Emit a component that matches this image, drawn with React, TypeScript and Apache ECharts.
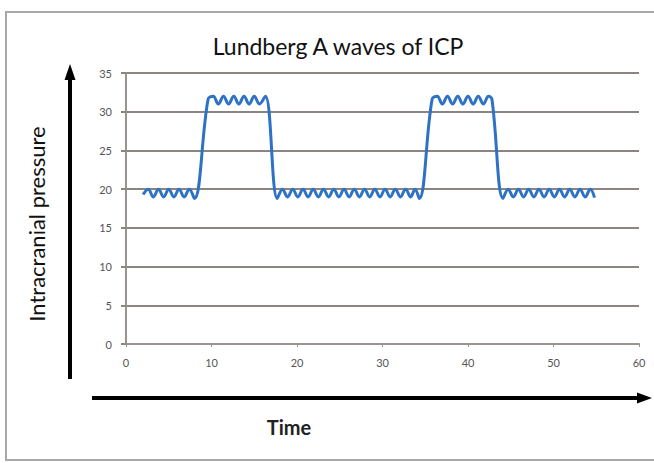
import React, { useEffect, useRef } from "react";
import * as echarts from "echarts";

const titleText = "Lundberg A waves of ICP";
const yAxisName = "Intracranial pressure";
const xAxisName = "Time";

const timeValues = [
  2.0, 2.6, 3.2, 3.8, 4.4, 5.0, 5.6, 6.2, 6.8, 7.4, 8.0,
  9.6, 10.2, 10.8, 11.4, 12.0, 12.6, 13.2, 13.8, 14.4, 15.0, 15.6, 16.3,
  17.7,
  18.3, 18.9, 19.5, 20.1, 20.7, 21.3, 21.9, 22.5, 23.1, 23.7, 24.3, 24.9, 25.5, 26.1,
  26.7, 27.3, 27.9, 28.5, 29.1, 29.7, 30.3, 30.9, 31.5, 32.1, 32.7, 33.3, 33.8, 34.3,
  35.8, 36.4, 37.0, 37.6, 38.2, 38.8, 39.4, 40.0, 40.6, 41.2, 41.8, 42.4, 42.8,
  44.1,
  44.7, 45.3, 45.9, 46.5, 47.1, 47.7, 48.3, 48.9, 49.5, 50.1, 50.7, 51.3, 51.9, 52.5,
  53.1, 53.7, 54.3, 54.8,
];

const pressureValues = [
  19.3, 20, 19, 20, 19, 20, 19, 20, 19, 20, 18.8,
  31.6, 32, 31, 32, 31, 32, 31, 32, 31, 32, 31, 32,
  18.8,
  20, 19, 20, 19, 20, 19, 20, 19, 20, 19, 20, 19, 20, 19,
  20, 19, 20, 19, 20, 19, 20, 19, 20, 19, 20, 19, 20, 18.8,
  31.6, 32, 31, 32, 31, 32, 31, 32, 31, 32, 31, 32, 31.6,
  18.8,
  20, 19, 20, 19, 20, 19, 20, 19, 20, 19, 20, 19, 20, 19,
  20, 19, 20, 18.9,
];

const xTicks = { min: 0, max: 60, interval: 10 };
const yTicks = { min: 0, max: 35, interval: 5 };

export default function App() {
  const ref = useRef<HTMLDivElement>(null);

  useEffect(() => {
    if (!ref.current) return;
    const chart = echarts.init(ref.current, undefined, { renderer: "svg" });
    const data = timeValues.map((t, i) => [t, pressureValues[i]]);
    chart.setOption({
      animation: false,
      backgroundColor: "#ffffff",
      title: {
        text: titleText,
        left: 333,
        textAlign: "center",
        top: 29,
        textStyle: {
          fontFamily: "Lato",
          fontSize: 23,
          fontWeight: "normal",
          color: "#111111",
        },
      },
      grid: { left: 126, right: 15, top: 73, bottom: 119 },
      xAxis: {
        type: "value",
        min: xTicks.min,
        max: xTicks.max,
        interval: xTicks.interval,
        axisLine: { show: true, lineStyle: { color: "#9a9490", width: 2 } },
        axisTick: { show: true, length: 3, lineStyle: { color: "#9a9490" } },
        axisLabel: {
          margin: 13,
          fontFamily: "Lato",
          fontSize: 11,
          color: "#555555",
        },
        splitLine: { show: false },
      },
      yAxis: {
        type: "value",
        min: yTicks.min,
        max: yTicks.max,
        interval: yTicks.interval,
        axisLine: { show: true, lineStyle: { color: "#9a9490", width: 2 } },
        axisTick: { show: true, length: 5, lineStyle: { color: "#8c8480", width: 2 } },
        axisLabel: {
          margin: 14,
          fontFamily: "Lato",
          fontSize: 11,
          color: "#555555",
        },
        splitLine: { show: true, lineStyle: { color: "#8c8480", width: 2 } },
      },
      series: [
        {
          type: "line",
          data,
          smooth: 0.4,
          showSymbol: false,
          lineStyle: { color: "#2e72c4", width: 3 },
        },
      ],
      graphic: [
        {
          type: "rect",
          shape: { x: 6, y: 12, width: 700, height: 448 },
          style: { fill: "none", stroke: "#a8a8a8", lineWidth: 2 },
          z: -1,
        },
        {
          type: "line",
          shape: { x1: 70, y1: 78, x2: 70, y2: 379 },
          style: { stroke: "#000000", lineWidth: 4 },
        },
        {
          type: "polygon",
          shape: { points: [[70, 64], [64.5, 80], [75.5, 80]] },
          style: { fill: "#000000" },
        },
        {
          type: "line",
          shape: { x1: 92, y1: 398, x2: 640, y2: 398 },
          style: { stroke: "#000000", lineWidth: 4 },
        },
        {
          type: "polygon",
          shape: { points: [[652, 398], [637, 392.5], [637, 403.5]] },
          style: { fill: "#000000" },
        },
        {
          type: "text",
          x: 36,
          y: 224,
          rotation: Math.PI / 2,
          style: {
            text: yAxisName,
            fontFamily: "Lato",
            fontSize: 22,
            fill: "#111111",
            align: "center",
            verticalAlign: "middle",
          },
        },
        {
          type: "text",
          x: 289,
          y: 427,
          style: {
            text: xAxisName,
            fontFamily: "Lato",
            fontSize: 20,
            fontWeight: "bold",
            fill: "#222222",
            align: "center",
            verticalAlign: "middle",
          },
        },
      ],
    });
    return () => chart.dispose();
  }, []);

  return (
    <div
      ref={ref}
      style={{ position: "fixed", left: 0, top: 0, width: 654, height: 463 }}
    />
  );
}
